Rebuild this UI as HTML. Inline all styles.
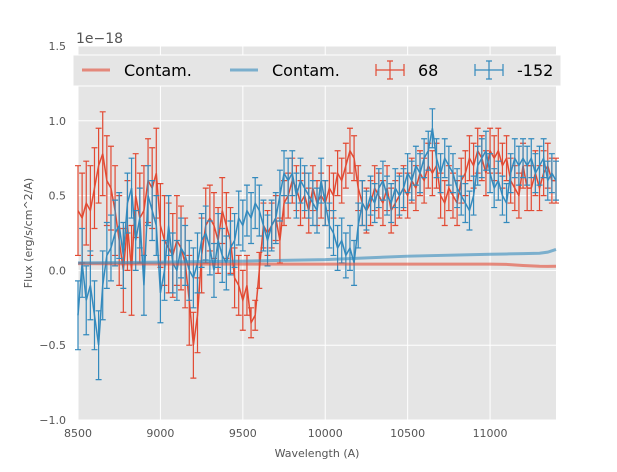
<!DOCTYPE html>
<html><head><meta charset="utf-8"><style>
body{margin:0;background:#fff;font-family:"Liberation Sans","DejaVu Sans",sans-serif}
svg text{font-family:"DejaVu Sans","Liberation Sans",sans-serif}
</style></head><body>
<svg id="chart" width="617" height="467" xmlns="http://www.w3.org/2000/svg"></svg>
<script>
const wl0 = 8500, wlStep = 25;
const red68 = [0.4,0.35,0.45,0.4,0.55,0.7,0.78,0.6,0.55,0.4,0.2,0.0,0.3,0.0,0.5,0.35,0.4,0.6,0.55,0.65,0.3,0.2,0.15,0.1,0.2,0.15,0.05,-0.2,-0.5,-0.3,0.1,0.3,0.35,0.3,0.2,0.4,0.3,0.2,-0.05,-0.1,-0.2,-0.1,-0.35,-0.3,0.0,0.3,0.25,0.3,0.35,0.2,0.45,0.5,0.6,0.55,0.45,0.5,0.4,0.55,0.45,0.5,0.45,0.55,0.5,0.65,0.6,0.7,0.8,0.75,0.55,0.45,0.4,0.45,0.55,0.5,0.45,0.55,0.4,0.45,0.5,0.55,0.5,0.6,0.55,0.65,0.6,0.7,0.65,0.7,0.5,0.45,0.55,0.5,0.45,0.6,0.65,0.75,0.7,0.8,0.75,0.65,0.8,0.75,0.8,0.7,0.75,0.6,0.55,0.5,0.7,0.55,0.55,0.65,0.55,0.65,0.7,0.6,0.6];
const blue152 = [-0.3,0.05,-0.2,-0.1,-0.3,-0.5,-0.1,0.1,0.15,0.25,0.3,0.1,0.45,0.55,0.2,0.35,-0.1,0.5,0.4,0.3,-0.15,0.0,0.3,0.05,0.0,0.15,0.1,0.0,-0.05,0.05,0.2,0.25,0.15,0.0,0.2,0.1,0.05,0.15,0.2,0.35,0.3,0.4,0.35,0.45,0.4,0.3,0.2,0.3,0.35,0.5,0.65,0.6,0.65,0.5,0.6,0.55,0.5,0.45,0.4,0.6,0.45,0.3,0.25,0.15,0.2,0.1,0.15,0.05,0.3,0.45,0.4,0.5,0.45,0.55,0.6,0.5,0.45,0.55,0.5,0.55,0.65,0.6,0.7,0.65,0.75,0.8,0.95,0.75,0.65,0.75,0.7,0.65,0.55,0.5,0.45,0.4,0.5,0.7,0.75,0.8,0.65,0.55,0.6,0.5,0.45,0.65,0.75,0.7,0.75,0.7,0.75,0.65,0.7,0.75,0.6,0.65,0.6];
const redErr = [0.3,0.3,0.28,0.3,0.27,0.25,0.28,0.3,0.28,0.3,0.3,0.28,0.3,0.3,0.28,0.3,0.3,0.28,0.27,0.3,0.28,0.3,0.3,0.28,0.3,0.28,0.3,0.3,0.22,0.25,0.25,0.25,0.22,0.22,0.22,0.22,0.22,0.22,0.2,0.2,0.2,0.2,0.1,0.1,0.12,0.15,0.15,0.15,0.15,0.15,0.15,0.15,0.15,0.15,0.15,0.15,0.15,0.15,0.15,0.15,0.15,0.15,0.15,0.15,0.15,0.15,0.15,0.15,0.15,0.15,0.15,0.15,0.15,0.15,0.15,0.15,0.15,0.15,0.15,0.15,0.15,0.15,0.15,0.15,0.15,0.15,0.15,0.15,0.15,0.15,0.15,0.15,0.15,0.15,0.15,0.15,0.15,0.15,0.15,0.15,0.15,0.15,0.15,0.15,0.15,0.15,0.15,0.15,0.15,0.15,0.15,0.15,0.15,0.15,0.15,0.15,0.15];
const blueErr = [0.23,0.23,0.23,0.23,0.23,0.23,0.23,0.22,0.22,0.22,0.22,0.22,0.2,0.2,0.2,0.2,0.2,0.2,0.2,0.2,0.2,0.2,0.2,0.2,0.2,0.2,0.2,0.2,0.2,0.2,0.18,0.18,0.18,0.18,0.18,0.18,0.18,0.18,0.18,0.18,0.17,0.17,0.17,0.17,0.17,0.17,0.17,0.17,0.17,0.17,0.15,0.15,0.15,0.15,0.15,0.15,0.15,0.15,0.15,0.15,0.15,0.15,0.15,0.15,0.15,0.15,0.15,0.15,0.15,0.15,0.13,0.13,0.13,0.13,0.13,0.13,0.13,0.13,0.13,0.13,0.13,0.13,0.13,0.13,0.13,0.13,0.13,0.13,0.13,0.13,0.13,0.13,0.13,0.13,0.13,0.13,0.13,0.13,0.13,0.13,0.13,0.13,0.13,0.13,0.13,0.13,0.13,0.13,0.13,0.13,0.13,0.13,0.13,0.13,0.13,0.13,0.13];
const contamX = [8500,9000,9500,10000,10500,11000,11100,11200,11300,11350,11400];
const contamRed = [0.045,0.043,0.042,0.042,0.042,0.042,0.04,0.033,0.028,0.027,0.028];
const contamBlue = [0.05,0.055,0.062,0.072,0.095,0.108,0.11,0.112,0.115,0.122,0.14];
const xTicks = [8500,9000,9500,10000,10500,11000];
const yTicks = [-1.0,-0.5,0.0,0.5,1.0,1.5];
const yTickLabels = ["\u22121.0","\u22120.5","0.0","0.5","1.0","1.5"];

const L=78,R=556,T=46,B=420, xmin=8500,xmax=11400,ymin=-1,ymax=1.5;
const X=v=>L+(v-xmin)/(xmax-xmin)*(R-L);
const Y=v=>B-(v-ymin)/(ymax-ymin)*(B-T);
const svg=document.getElementById('chart');
const NS='http://www.w3.org/2000/svg';
function mk(tag,attrs,parent){const e=document.createElementNS(NS,tag);for(const k in attrs)e.setAttribute(k,attrs[k]);(parent||svg).appendChild(e);return e;}

let bg=mk('rect',{x:L,y:T,width:R-L,height:B-T,fill:'#e5e5e5'});


const grid=mk('g',{stroke:'#fff','stroke-width':1});


xTicks.forEach(v=>mk('line',{x1:X(v),x2:X(v),y1:T,y2:B},grid));
yTicks.forEach(v=>mk('line',{x1:L,x2:R,y1:Y(v),y2:Y(v)},grid));

function contam(vals,color,name){
  const d=contamX.map((x,i)=>(i?'L':'M')+X(x)+','+Y(vals[i])).join(' ');
  const p=mk('path',{d:d,fill:'none',stroke:color,'stroke-width':3,'stroke-opacity':0.6});
  
  
}
function series(vals,errs,color,name){
  const g=mk('g',{stroke:color,fill:'none','stroke-width':1.2});
  
  
  let d='';
  vals.forEach((v,i)=>{const x=X(wl0+i*wlStep);d+=(i?'L':'M')+x+','+Y(v)+' ';
    const y1=Y(v+errs[i]),y2=Y(v-errs[i]);
    mk('path',{d:`M${x},${y1}L${x},${y2}M${x-3},${y1}L${x+3},${y1}M${x-3},${y2}L${x+3},${y2}`},g);});
  mk('path',{d:d,'stroke-width':1.5},g);
}
series(red68,redErr,'#E24A33','series-68');
series(blue152,blueErr,'#348ABD','series-neg152');
contam(contamRed,'#E24A33','contam-line-red');
contam(contamBlue,'#348ABD','contam-line-blue');

const ax=mk('g',{fill:'#555','font-size':11});


xTicks.forEach(v=>{const t=mk('text',{x:X(v),y:B+17,'text-anchor':'middle'},ax);t.textContent=v;});
yTicks.forEach((v,i)=>{const t=mk('text',{x:L-12,y:Y(v)+4,'text-anchor':'end'},ax);t.textContent=yTickLabels[i];});
let t=mk('text',{x:(L+R)/2,y:457,'text-anchor':'middle','font-size':11},ax);t.textContent='Wavelength (A)';
t=mk('text',{x:32,y:233,'text-anchor':'middle','font-size':11,transform:'rotate(-90 32 233)'},ax);t.textContent='Flux (erg/s/cm^2/A)';
t=mk('text',{x:76,y:43,'font-size':14},ax);t.textContent='1e\u221218';

const lg=mk('g',{});


mk('rect',{x:73,y:55,width:488,height:31,fill:'#e5e5e5',stroke:'#fff','stroke-width':1},lg);
const entries=[[82,'#E24A33','Contam.',0],[230,'#348ABD','Contam.',0],[376,'#E24A33','68',1],[475,'#348ABD','-152',1]];
entries.forEach(e=>{
  const g=mk('g',{},lg);
  
  
  if(!e[3]) mk('line',{x1:e[0],x2:e[0]+28,y1:70,y2:70,stroke:e[1],'stroke-width':3,'stroke-opacity':0.6},g);
  else mk('path',{d:`M${e[0]},70L${e[0]+28},70M${e[0]+14},61L${e[0]+14},79M${e[0]+11},61L${e[0]+17},61M${e[0]+11},79L${e[0]+17},79M${e[0]},64L${e[0]},76M${e[0]+28},64L${e[0]+28},76`,stroke:e[1],'stroke-width':1.2,fill:'none'},g);
  const tx=mk('text',{x:e[0]+42,y:76,'font-size':16,fill:'#000'},g);tx.textContent=e[2];
});
</script>
</body></html>
